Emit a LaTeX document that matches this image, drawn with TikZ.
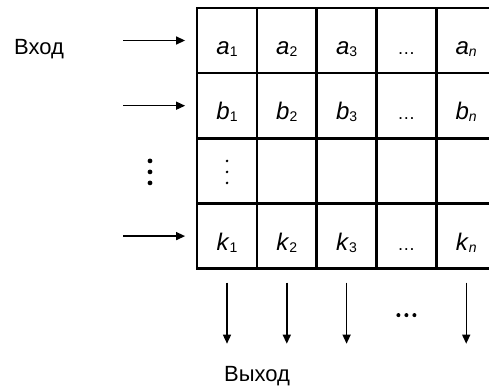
\documentclass[tikz,border=0pt]{standalone}
\usepackage{fontspec}
\setmainfont{Liberation Sans}
\usetikzlibrary{arrows.meta,positioning,calc}
\newcommand{\cellsym}[2]{\textit{#1}\raisebox{-2pt}{\fontsize{14}{14}\selectfont #2}}
\tikzset{
  gridcell/.style={draw=black,line width=2.7pt,outer sep=0pt,inner sep=0pt,
                   minimum width=59.8pt,minimum height=65.2pt,
                   text height=28pt,text depth=0pt,
                   font=\fontsize{24}{24}\selectfont},
  feedarr/.style={-{Triangle[length=9pt,width=8pt]},line width=1.4pt},
  caption/.style={font=\fontsize{22}{22}\selectfont,anchor=base}
}

\begin{document}
\begin{tikzpicture}[x=1pt,y=-1pt]
  \useasboundingbox (0,0) rectangle (489,385);
  % grid of cells
  \node[gridcell] (c-1-1) at (227,40.5) {\cellsym{a}{1}};
  \node[gridcell,below=0pt of c-1-1] (c-2-1) {\cellsym{b}{1}};
  \node[gridcell,below=0pt of c-2-1] (c-3-1) {};
  \node[gridcell,below=0pt of c-3-1] (c-4-1) {\cellsym{k}{1}};
  \foreach \r/\s in {1/a,2/b,4/k} {
    \node[gridcell,right=0pt of c-\r-1] (c-\r-2) {\cellsym{\s}{2}};
    \node[gridcell,right=0pt of c-\r-2] (c-\r-3) {\cellsym{\s}{3}};
    \node[gridcell,right=0pt of c-\r-3] (c-\r-4) {\fontsize{18}{18}\selectfont …};
    \node[gridcell,right=0pt of c-\r-4] (c-\r-5) {\cellsym{\s}{\textit{n}}};
  }
  \foreach \c [remember=\c as \p (initially 1)] in {2,...,5}
    \node[gridcell,right=0pt of c-3-\p] (c-3-\c) {};
  % dots
  \foreach \d in {-10,1,12} {
    \fill ($(c-3-1)+(0,\d)$) circle (1.4);
    \fill ($(c-3-1)+(-77,\d)$) circle (2.4);
  }
  \foreach \d in {-8,0,8}
    \fill ($(c-4-4)+(\d,79)$) circle (2);
  % input
  \node[caption] (inlabel) at (39,55) {Вход};
  \foreach \r in {1,2,4} {
    \coordinate (in-\r) at ($(c-\r-1)+(-104,0)$);
    \draw[feedarr,shorten >=12pt] (in-\r) -- (c-\r-1);
  }
  % output
  \foreach \c in {1,2,3,5} {
    \coordinate[below=75pt of c-4-\c.south] (out-\c);
    \draw[feedarr,shorten <=14pt] (c-4-\c) -- (out-\c);
  }
  \node[caption] (outlabel) at (257,381) {Выход};
\end{tikzpicture}
\end{document}
